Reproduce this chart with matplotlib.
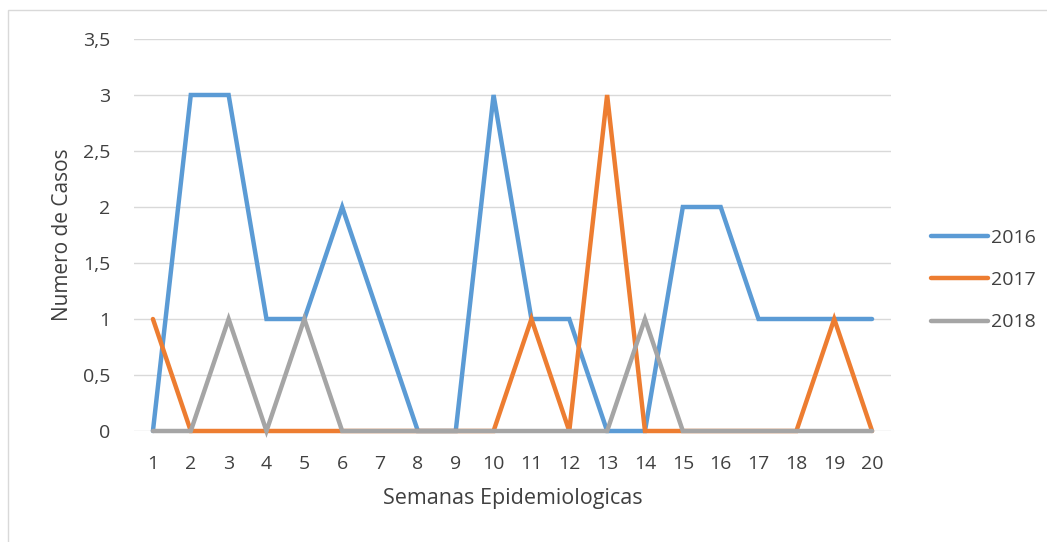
import matplotlib.pyplot as plt
from matplotlib.patches import Rectangle
from matplotlib.ticker import FuncFormatter

semanas = list(range(1, 21))
casos_2016 = [0, 3, 3, 1, 1, 2, 1, 0, 0, 3, 1, 1, 0, 0, 2, 2, 1, 1, 1, 1]
casos_2017 = [1, 0, 0, 0, 0, 0, 0, 0, 0, 0, 1, 0, 3, 0, 0, 0, 0, 0, 1, 0]
casos_2018 = [0, 0, 1, 0, 1, 0, 0, 0, 0, 0, 0, 0, 0, 1, 0, 0, 0, 0, 0, 0]
anos = ["2016", "2017", "2018"]
cores = ["#5B9BD5", "#ED7D31", "#A5A5A5"]

plt.rcParams["font.family"] = ["Open Sans", "DejaVu Sans"]
txt = "#404040"

fig = plt.figure(figsize=(10.47, 5.42), dpi=100)
# moldura do grafico
fig.patches.append(Rectangle((8 / 1047, -0.1), 1.2, (542 - 10) / 542 + 0.1,
                             transform=fig.transFigure, fill=False,
                             edgecolor="#D9D9D9", linewidth=1))

ax = fig.add_axes([134 / 1047, 111 / 542, (891 - 134) / 1047, (431 - 39) / 542])
for serie, ano, cor in zip([casos_2016, casos_2017, casos_2018], anos, cores):
    ax.plot(semanas, serie, color=cor, linewidth=3.2, label=ano,
            solid_capstyle="round", solid_joinstyle="miter", clip_on=False)

ax.set_xlim(0.5, 20.5)
ax.set_ylim(0, 3.5)
ax.set_xticks(semanas)
ax.set_yticks([0, 0.5, 1, 1.5, 2, 2.5, 3, 3.5])
ax.yaxis.set_major_formatter(FuncFormatter(lambda v, p: f"{v:g}".replace(".", ",")))
ax.grid(axis="y", color="#D9D9D9", linewidth=1)
ax.set_axisbelow(True)
for s in ax.spines.values():
    s.set_visible(False)
ax.tick_params(length=0, labelsize=14, labelcolor=txt)
ax.tick_params(axis="x", pad=17)
ax.tick_params(axis="y", pad=17)

ax.set_xlabel("Semanas Epidemiologicas", fontsize=15.5, color=txt, labelpad=11)
ax.set_ylabel("Numero de Casos", fontsize=15, color=txt, labelpad=7)

leg = ax.legend(loc="center left", bbox_to_anchor=(1.03, 0.385), frameon=False,
                fontsize=14, handlelength=2.9, labelspacing=1.25, handletextpad=0.2)
for t in leg.get_texts():
    t.set_color(txt)

fig.savefig("out.png", dpi=100)
